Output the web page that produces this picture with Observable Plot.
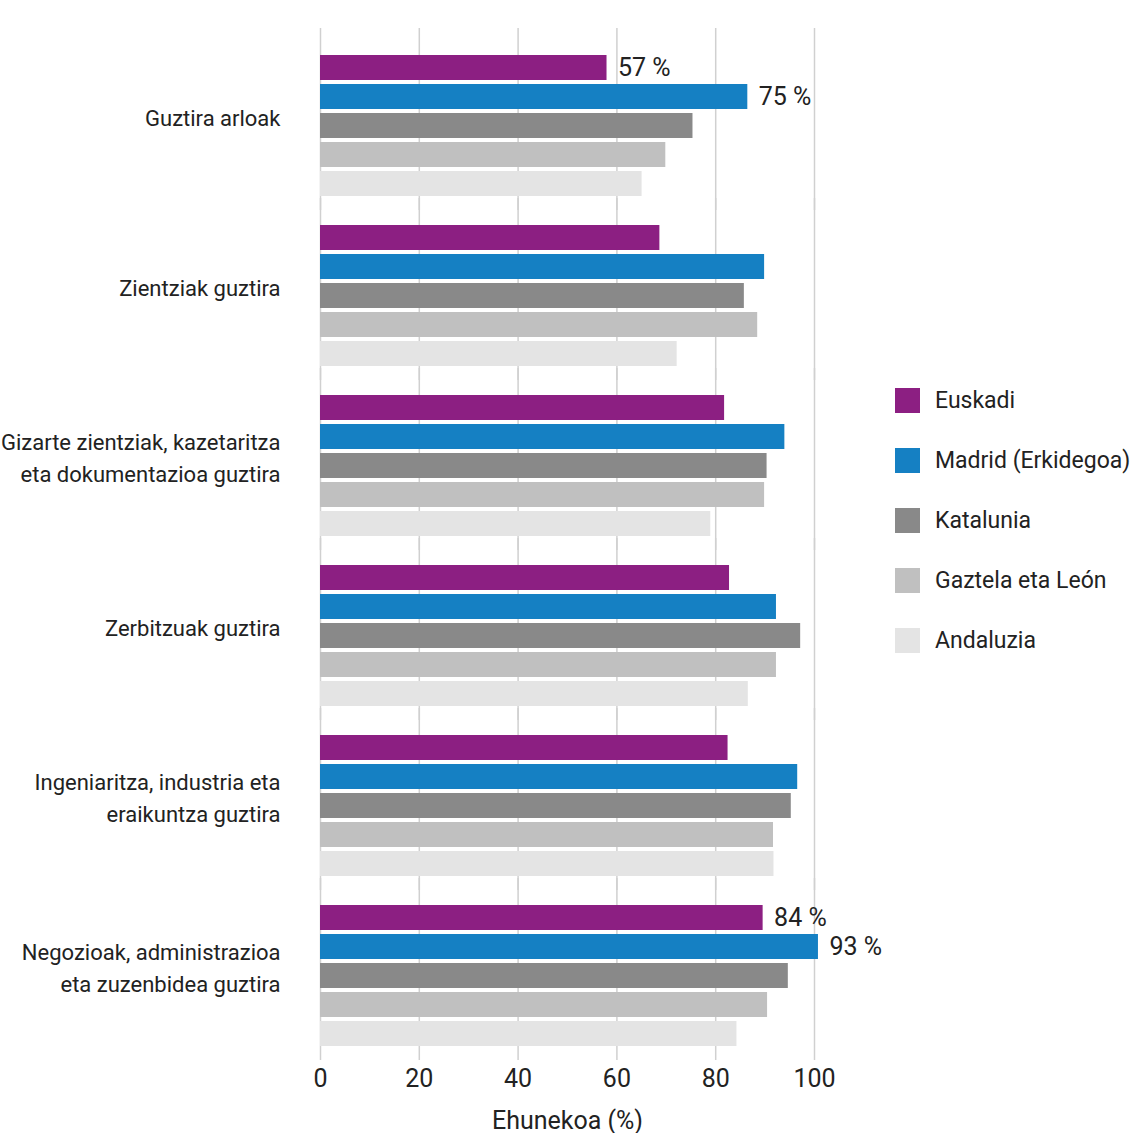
<!DOCTYPE html>
<html>
<head>
<meta charset="utf-8">
<script src="https://cdn.jsdelivr.net/npm/d3@7"></script>
<script src="https://cdn.jsdelivr.net/npm/@observablehq/plot@0.6"></script>
<style>
  html, body { margin: 0; padding: 0; background: #fff; }
  #wrap { position: relative; width: 1131px; height: 1133px; font-family: Roboto, "Noto Sans", sans-serif; color: #222; }
  #legend { position: absolute; left: 895px; top: 370px; }
  .item { display: flex; align-items: center; height: 60px; }
  .sw { width: 25px; height: 25px; margin-right: 15px; flex: none; }
  .lab { font-size: 23px; white-space: nowrap; line-height: 1; }
</style>
</head>
<body>
<div id="wrap"><div id="legend"></div></div>
<script>
const categories = [
  "Guztira arloak",
  "Zientziak guztira",
  "Gizarte zientziak, kazetaritza eta dokumentazioa guztira",
  "Zerbitzuak guztira",
  "Ingeniaritza, industria eta eraikuntza guztira",
  "Negozioak, administrazioa eta zuzenbidea guztira"
];
const categoryLabels = [
  "Guztira arloak",
  "Zientziak guztira",
  "Gizarte zientziak, kazetaritza\neta dokumentazioa guztira",
  "Zerbitzuak guztira",
  "Ingeniaritza, industria eta\neraikuntza guztira",
  "Negozioak, administrazioa\neta zuzenbidea guztira"
];
const series = ["Euskadi", "Madrid (Erkidegoa)", "Katalunia", "Gaztela eta León", "Andaluzia"];
const colors = ["#8c1f82", "#1580c3", "#898989", "#c0c0c0", "#e4e4e4"];

const euskadi   = [58.0, 68.7, 81.8, 82.8, 82.5, 89.6];
const madrid    = [86.5, 89.9, 94.0, 92.3, 96.6, 100.8];
const katalunia = [75.4, 85.8, 90.4, 97.2, 95.3, 94.7];
const gaztela   = [69.9, 88.5, 89.9, 92.3, 91.7, 90.5];
const andaluzia = [65.1, 72.2, 79.0, 86.6, 91.8, 84.3];

const xTicks = [0, 20, 40, 60, 80, 100];
const xLabel = "Ehunekoa (%)";

// value labels: [category index, series index, text]
const valueLabels = [
  [0, 0, "57 %"],
  [0, 1, "75 %"],
  [5, 0, "84 %"],
  [5, 1, "93 %"]
];

const seriesValues = [euskadi, madrid, katalunia, gaztela, andaluzia];
const data = [];
categories.forEach((c, i) => {
  series.forEach((s, j) => data.push({category: c, series: s, value: seriesValues[j][i]}));
});
const labelData = valueLabels.map(([ci, si, t]) => ({
  category: categories[ci], series: series[si], value: seriesValues[si][ci], text: t
}));

const chart = Plot.plot({
  width: 1131,
  height: 1133,
  marginLeft: 320,
  marginRight: 317,
  marginTop: 32,
  marginBottom: 78,
  style: {fontFamily: "Roboto, 'Noto Sans', sans-serif", fontSize: "24px", color: "#222", background: "#fff"},
  x: {domain: [0, 100], axis: null},
  y: {domain: series, paddingInner: 0.143, paddingOuter: 0.04, axis: null},
  fy: {domain: categories, paddingInner: 0.15, paddingOuter: 0.0765, align: 0.72, axis: null},
  color: {domain: series, range: colors},
  marks: [
    Plot.ruleX(xTicks, {stroke: "#d0d0d0", strokeWidth: 1.5, insetTop: -25, insetBottom: -12}),
    Plot.barX(data, {x: "value", y: "series", fy: "category", fill: "series"}),
    Plot.text(labelData, {x: "value", y: "series", fy: "category", text: "text", textAnchor: "start", dx: 11, fontSize: 25, fill: "#222"}),
    Plot.text(categories, {fy: d => d, text: (d, i) => categoryLabels[i], frameAnchor: "left", textAnchor: "end", dx: -40, dy: -10, fontSize: 22, lineHeight: 1.45, fill: "#222"}),
    Plot.axisX(xTicks, {anchor: "bottom", tickSize: 0, tickPadding: 21, fontSize: 25, label: xLabel, labelAnchor: "center", labelArrow: "none", labelOffset: 80, fill: "#222"})
  ]
});
document.getElementById("wrap").prepend(chart);

const legend = document.getElementById("legend");
series.forEach((s, i) => {
  const it = document.createElement("div");
  it.className = "item";
  it.innerHTML = `<div class="sw" style="background:${colors[i]}"></div><div class="lab">${s}</div>`;
  legend.appendChild(it);
});
</script>
</body>
</html>
